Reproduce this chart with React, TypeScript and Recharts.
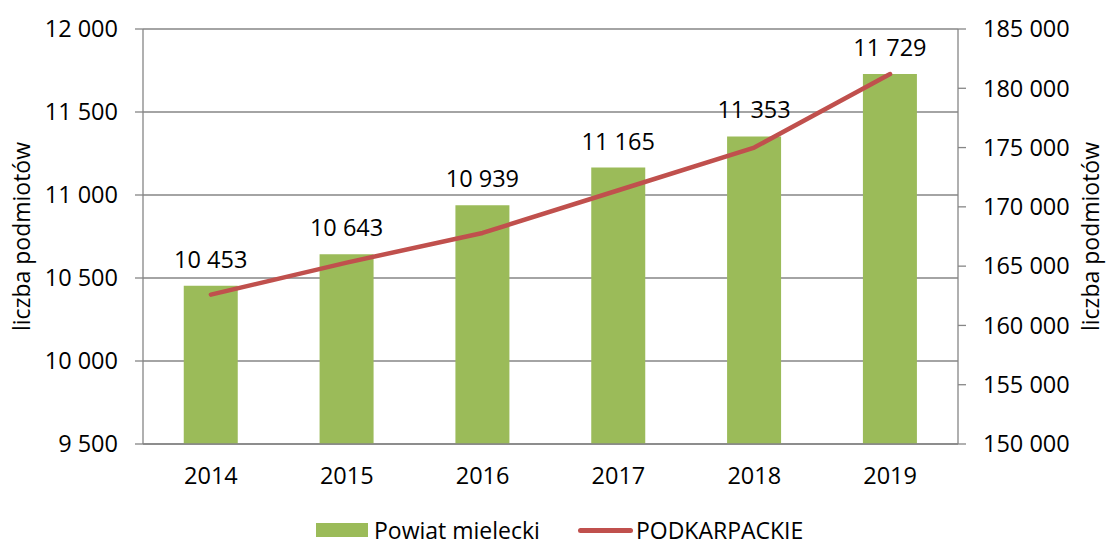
import { ComposedChart, Bar, Line, XAxis, YAxis, CartesianGrid, Legend, LabelList, Label } from 'recharts'

const YEARS = ['2014', '2015', '2016', '2017', '2018', '2019']
const POWIAT = [10453, 10643, 10939, 11165, 11353, 11729]
const PODKARPACKIE = [162600, 165300, 167800, 171400, 175000, 181200]
const LEFT_TICKS = [9500, 10000, 10500, 11000, 11500, 12000]
const RIGHT_TICKS = [150000, 155000, 160000, 165000, 170000, 175000, 180000, 185000]
const BOUNDARY_TICKS = [0, 1, 2, 3, 4, 5, 6]

const GREEN = '#9BBB59'
const RED = '#C0504D'
const GRAY = '#868686'
const FONT = '"Open Sans", sans-serif'
const FS = 23.5

const data = YEARS.map((year, i) => ({ year, powiat: POWIAT[i], woj: PODKARPACKIE[i] }))

const fmt = (n: number) => String(n).replace(/\B(?=(\d{3})+(?!\d))/g, ' ')

const tickStyle = { fill: '#000', fontSize: FS, fontFamily: FONT }

function AxisTitle({ viewBox, side }: { viewBox?: any; side: 'left' | 'right' }) {
  if (!viewBox) return null
  const x = side === 'left' ? viewBox.x + 30 : viewBox.x + viewBox.width - 8
  const y = viewBox.y + viewBox.height / 2
  return (
    <text
      x={x}
      y={y}
      transform={`rotate(-90 ${x} ${y})`}
      textAnchor="middle"
      fontSize={23}
      fontFamily={FONT}
      fill="#000"
    >
      liczba podmiotów
    </text>
  )
}

function LegendBox() {
  return (
    <div
      style={{
        height: 24,
        display: 'flex',
        alignItems: 'center',
        paddingLeft: 316,
        fontFamily: FONT,
        fontSize: 23,
        color: '#000',
        lineHeight: '24px',
        whiteSpace: 'nowrap',
      }}
    >
      <span style={{ width: 52, height: 14, background: GREEN, display: 'inline-block' }} />
      <span style={{ marginLeft: 6 }}>Powiat mielecki</span>
      <span
        style={{ width: 55, height: 5, background: RED, borderRadius: 3, display: 'inline-block', marginLeft: 38 }}
      />
      <span style={{ marginLeft: 3 }}>PODKARPACKIE</span>
    </div>
  )
}

export default function App() {
  return (
    <div style={{ width: 1107, height: 544, background: '#fff' }}>
      <style>{`body{margin:0}`}</style>
      <ComposedChart
        width={1107}
        height={544}
        data={data}
        margin={{ top: 29, right: 0, left: 0, bottom: 0 }}
        barCategoryGap="30%"
        style={{ fontFamily: FONT }}
      >
        <CartesianGrid yAxisId="left" xAxisId="cat" vertical={false} stroke={GRAY} strokeWidth={1.3} />
        <XAxis
          xAxisId="ticks"
          type="number"
          domain={[0, 6]}
          ticks={BOUNDARY_TICKS}
          height={0}
          tick={false}
          tickSize={8}
          tickLine={{ stroke: GRAY, strokeWidth: 1.3 }}
          axisLine={false}
          allowDataOverflow
        />
        <XAxis
          xAxisId="cat"
          dataKey="year"
          height={76}
          tickLine={false}
          tickSize={0}
          tickMargin={23}
          tick={tickStyle}
          axisLine={{ stroke: GRAY, strokeWidth: 1.3 }}
          interval={0}
        />
        <YAxis
          yAxisId="left"
          orientation="left"
          width={143}
          domain={[9500, 12000]}
          ticks={LEFT_TICKS}
          tickFormatter={fmt}
          tick={tickStyle}
          tickSize={8}
          tickMargin={17}
          tickLine={{ stroke: GRAY, strokeWidth: 1.3 }}
          axisLine={{ stroke: GRAY, strokeWidth: 1.3 }}
          allowDataOverflow
        >
          <Label content={(p: any) => <AxisTitle viewBox={p.viewBox} side="left" />} />
        </YAxis>
        <YAxis
          yAxisId="right"
          orientation="right"
          width={149}
          domain={[150000, 185000]}
          ticks={RIGHT_TICKS}
          tickFormatter={fmt}
          tick={tickStyle}
          tickSize={8}
          tickMargin={17}
          tickLine={{ stroke: GRAY, strokeWidth: 1.3 }}
          axisLine={{ stroke: GRAY, strokeWidth: 1.3 }}
          allowDataOverflow
        >
          <Label content={(p: any) => <AxisTitle viewBox={p.viewBox} side="right" />} />
        </YAxis>
        <Bar xAxisId="cat" yAxisId="left" dataKey="powiat" name="Powiat mielecki" fill={GREEN} isAnimationActive={false}>
          <LabelList
            dataKey="powiat"
            position="top"
            offset={18}
            formatter={(v: any) => fmt(Number(v))}
            style={{ fill: '#000', fontSize: FS, fontFamily: FONT }}
          />
        </Bar>
        <Line
          xAxisId="cat"
          yAxisId="right"
          type="linear"
          dataKey="woj"
          name="PODKARPACKIE"
          stroke={RED}
          strokeWidth={4.5}
          strokeLinecap="round"
          strokeLinejoin="round"
          dot={false}
          activeDot={false}
          isAnimationActive={false}
        />
        <Legend
          verticalAlign="bottom"
          height={24}
          content={() => <LegendBox />}
          wrapperStyle={{ bottom: 2, left: 0, width: 1107 }}
        />
      </ComposedChart>
    </div>
  )
}
